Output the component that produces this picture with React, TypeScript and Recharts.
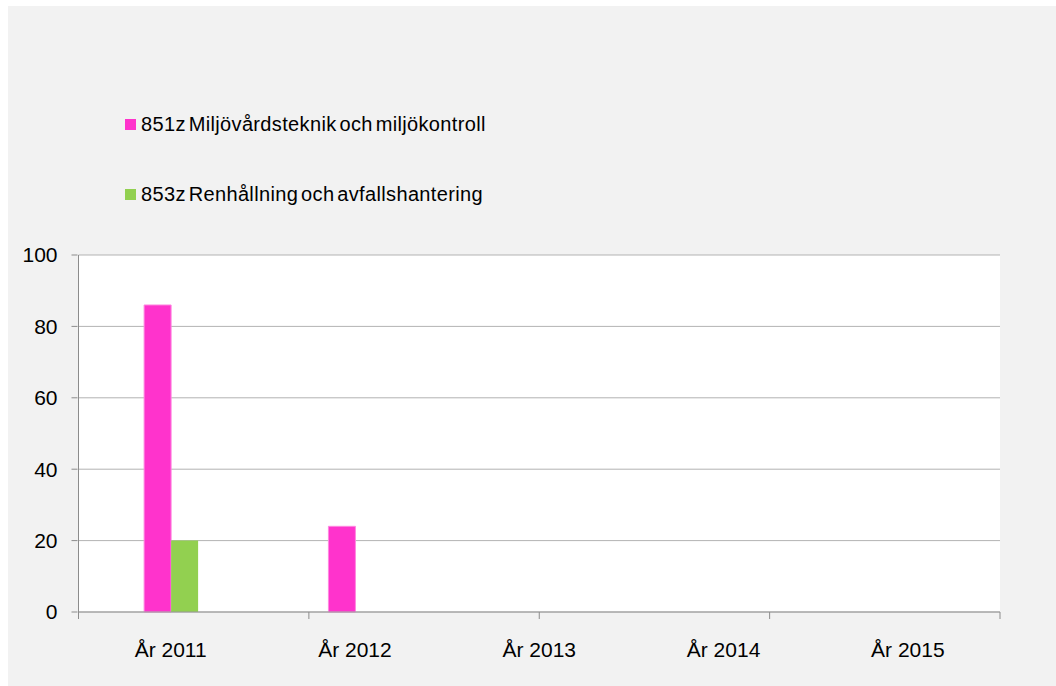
import React from 'react';
import { BarChart, Bar, XAxis, YAxis, CartesianGrid, ReferenceLine } from 'recharts';

const categories = ['År 2011', 'År 2012', 'År 2013', 'År 2014', 'År 2015'];
const series851 = [86, 24, 0, 0, 0];
const series853 = [20, 0, 0, 0, 0];
const seriesNames = ['851z Miljövårdsteknik och miljökontroll', '853z Renhållning och avfallshantering'];
const seriesColors = ['#ff33cc', '#92d050'];
const majorTicks = [0, 20, 40, 60, 80, 100];
const minorTicks = [10, 30, 50, 70, 90];
const boundTicks = [0, 1, 2, 3, 4, 5];

const data = categories.map((c, i) => ({ name: c, s851: series851[i], s853: series853[i] }));

const FONT = '"Liberation Sans", Arial, sans-serif';
const AXIS = '#8c8c8c';

const EmptyTick = () => <g />;

const LegendBox = () => (
  <div style={{ position: 'absolute', left: 117, top: 106, fontFamily: FONT }}>
    {seriesNames.map((n, i) => (
      <div key={i} style={{ display: 'flex', alignItems: 'center', height: 24, marginBottom: i === 0 ? 46 : 0 }}>
        <span style={{ display: 'inline-block', width: 11, height: 11, background: seriesColors[i], marginRight: 5 }} />
        <span style={{ fontSize: 20, color: '#000', letterSpacing: 0.35, wordSpacing: -3, whiteSpace: 'nowrap' }}>{n}</span>
      </div>
    ))}
  </div>
);

export default function App() {
  return (
    <div style={{ position: 'absolute', left: 8, top: 6, width: 1048, height: 680, background: '#f2f2f2' }}>
      <LegendBox />
      <BarChart
        width={1048}
        height={680}
        data={data}
        margin={{ top: 249, right: 56, left: 0, bottom: 0 }}
        barCategoryGap="35.6%"
        barGap={0}
      >
        <CartesianGrid yAxisId="main" xAxisId="main" vertical={false} stroke="#b3b3b3" fill="#ffffff" fillOpacity={1} />
        <XAxis xAxisId="bounds" type="number" domain={[0, 5]} ticks={boundTicks} tick={EmptyTick} interval={0} axisLine={{ stroke: '#999999' }} tickSize={7} height={1} tickLine={{ stroke: AXIS }} />
        <XAxis xAxisId="main" dataKey="name" tickLine={false} axisLine={false} tickSize={0} tickMargin={29} height={73} tick={{ fill: '#000', fontSize: 21, fontFamily: FONT }} interval={0} />
        <YAxis yAxisId="aminor" orientation="left" width={1} domain={[0, 100]} ticks={minorTicks} tick={EmptyTick} interval={0} axisLine={{ stroke: AXIS }} tickSize={5} tickLine={{ stroke: AXIS }} />
        <YAxis yAxisId="main" domain={[0, 100]} ticks={majorTicks} width={69.5} tickSize={6} tickMargin={14} axisLine={false} tickLine={{ stroke: AXIS }} tick={{ fill: '#000', fontSize: 21, fontFamily: FONT }} />
        <ReferenceLine xAxisId="bounds" yAxisId="main" x={5} stroke="#a6a6a6" />
        <Bar xAxisId="main" yAxisId="main" dataKey="s851" name={seriesNames[0]} fill={seriesColors[0]} stroke="#ff88e0" strokeWidth={1} isAnimationActive={false} />
        <Bar xAxisId="main" yAxisId="main" dataKey="s853" name={seriesNames[1]} fill={seriesColors[1]} isAnimationActive={false} />
      </BarChart>
    </div>
  );
}
